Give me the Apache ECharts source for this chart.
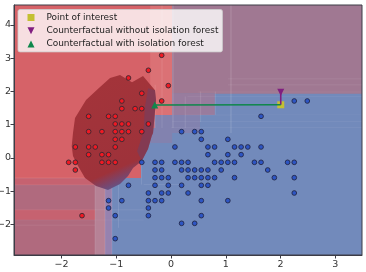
<!DOCTYPE html>
<html><head><meta charset="utf-8">
<style>html,body{margin:0;padding:0;background:#fff}#c{width:366px;height:272px}canvas{filter:blur(.2px)}</style>
<script src="https://cdn.jsdelivr.net/npm/echarts@6/dist/echarts.min.js"></script>
</head><body><div id="c"></div>
<script>
const xTicks = [-2,-1,0,1,2,3];
const yTicks = [-2,-1,0,1,2,3,4];
const xRange = [-2.87,3.49];
const yRange = [-2.917,4.6];

const redPoints = [
[-0.171,3.088],[-0.414,2.637],[-0.778,2.406],[-0.05,2.175],[-0.535,1.945],[-0.899,1.714],[-0.171,1.714],
[-0.899,1.484],[-0.657,1.484],[-0.535,1.484],[-1.506,1.253],[-1.142,1.253],[-1.02,1.253],
[-1.02,1.023],[-0.899,1.023],[-0.778,1.023],[-0.414,1.023],
[-1.506,0.792],[-1.263,0.792],[-1.02,0.792],[-0.899,0.792],[-0.778,0.792],[-0.535,0.792],
[-1.02,0.561],[-0.899,0.561],
[-1.749,0.331],[-1.506,0.331],[-1.385,0.331],[-1.02,0.331],
[-1.506,0.1],[-1.263,0.1],[-1.142,0.1],
[-1.871,-0.13],[-1.749,-0.13],[-1.263,-0.13],[-1.142,-0.13],[-1.02,-0.13],
[-1.749,-0.361],[-1.627,-1.734]
];
const bluePoints = [
[1.645,1.253],[2.252,1.714],[2.49,1.714],
[0.193,0.792],[0.432,0.792],[0.553,0.792],
[0.553,0.561],[1.038,0.561],
[0.071,0.331],[0.674,0.331],[0.796,0.331],[1.16,0.331],[1.281,0.331],[1.403,0.331],[1.645,0.331],
[0.674,0.1],[1.038,0.1],[1.281,0.1],
[-0.535,-0.13],[-0.293,-0.13],[-0.171,-0.13],[0.071,-0.13],[0.193,-0.13],[0.311,-0.13],[0.796,-0.13],[0.917,-0.13],[1.038,-0.13],[1.16,-0.13],[1.524,-0.13],[1.645,-0.13],[2.13,-0.13],[2.252,-0.13],
[-0.293,-0.361],[-0.171,-0.361],[0.193,-0.361],[0.311,-0.361],[0.432,-0.361],[0.553,-0.361],[0.674,-0.361],[0.917,-0.361],[1.767,-0.361],
[-0.293,-0.592],[-0.171,-0.592],[-0.05,-0.592],[0.311,-0.592],[0.432,-0.592],[0.553,-0.592],[0.674,-0.592],[0.796,-0.592],[1.16,-0.592],[1.888,-0.592],[2.252,-0.592],
[-0.778,-0.822],[-0.293,-0.822],[-0.05,-0.822],[0.193,-0.822],[0.553,-0.822],[0.674,-0.822],
[-0.414,-1.053],[-0.171,-1.053],[-0.05,-1.053],[0.311,-1.053],[2.252,-1.053],
[-1.142,-1.283],[-0.899,-1.283],[-0.414,-1.283],[-0.293,-1.283],[-0.171,-1.283],[0.553,-1.283],[1.038,-1.283],
[-1.142,-1.504],[-0.414,-1.504],
[-1.02,-1.734],[-0.414,-1.734],[0.553,-1.734],
[0.193,-1.965],[0.432,-1.965],
[-1.02,-2.426]
];
const pointOfInterest = [2.005,1.6];
const cfWithout = [2.005,1.976];
const cfWith = [-0.298,1.594];

// decision regions: [x0,x1,y0,y1]
const blueRegion = [[-2.87,3.49,-2.917,4.6]];
const redRegion = [[-2.87,0.02,0.9,4.6],[-2.87,-0.55,-0.6,0.9]];
const redLightRegion = [[-0.38,0.02,0.9,4.6]];
const mauveRegion = [[-2.87,-1.39,-2.917,-0.81]];
const mauveRedRegion = [[-2.87,-1.39,-0.81,-0.6],[-2.87,-1.39,-1.86,-1.56]];
const edgeARegion = [[-1.39,-1.207,-2.917,-0.6]];
const edgeBRegion = [[-1.207,-1.079,-2.917,-0.6]];
const purpleRegion = [[0.02,3.49,1.93,4.6]];
const midARegion = [[0.02,0.8,1.29,1.93]];
const midBRegion = [[-0.3,0.53,0.75,1.29],[-0.55,0.02,0.45,0.9]];
const lightStrips = [
[1.08,1.11,0.75,4.6],[0.02,0.05,0.9,4.6],[-0.175,-0.155,0.9,4.6],[-0.3,-0.28,0.9,2.2],
[1.04,3.49,2.37,2.39],[1.04,3.49,2.19,2.21],[0.5,3.49,1.975,1.995],[0.3,3.49,1.83,1.85],
[0.25,1.1,1.285,1.3],[0.0,3.49,0.9,0.92],[0.02,3.49,1.08,1.095],[1.1,3.49,1.29,1.3],
[0.25,0.27,0.9,1.85],[0.53,0.55,1.08,2.0],[0.8,0.82,1.3,2.0],
[-2.87,-1.39,-0.615,-0.59],[-2.87,-1.39,-0.82,-0.8],[-2.87,-1.39,-1.57,-1.55],[-2.87,-1.39,-1.875,-1.855],[-2.87,-1.39,-2.03,-2.01],
[-1.4,-1.38,-2.917,-0.6],[-1.217,-1.197,-2.917,-0.6],[-1.09,-1.07,-2.917,-0.6],
[-1.39,-0.5,-1.875,-1.855],[-1.39,-0.5,-1.57,-1.55],[-0.97,-0.95,-2.1,-0.8],[-0.5,0.2,-0.81,-0.79],[-0.55,-0.53,-0.8,0.4]
];
// dark contour outline [x,y]
const blobOutline = [[-0.932,2.496],[-0.713,2.276],[-0.512,2.466],[-0.293,2.035],[-0.274,1.744],[-0.329,0.752],[-0.353,0.662],[-0.421,0.271],[-0.535,-0.09],[-0.695,-0.301],[-0.786,-0.541],[-0.932,-0.782],[-1.152,-0.962],[-1.371,-0.842],[-1.572,-0.602],[-1.7,-0.241],[-1.792,0.06],[-1.815,0.361],[-1.792,0.752],[-1.755,1.203],[-1.554,1.744],[-1.298,2.135],[-1.115,2.406]];
const blobEdgeOutline = [[-0.42,2.1],[-0.293,2.035],[-0.274,1.744],[-0.329,0.752],[-0.353,0.662],[-0.421,0.271],[-0.535,-0.09],[-0.62,0.2],[-0.5,0.8],[-0.48,1.5]];

const axisColor = '#3c3c46';
function rectSeries(name,data,color,z){
  return {type:'custom',name,data,z,silent:true,clip:true,coordinateSystem:'cartesian2d',
    encode:{x:[0,1],y:[2,3]},
    renderItem(p,api){
      const a=api.coord([api.value(0),api.value(3)]),b=api.coord([api.value(1),api.value(2)]);
      return {type:'rect',shape:{x:a[0],y:a[1],width:b[0]-a[0],height:b[1]-a[1]},style:{fill:color}};
    }};
}
function polySeries(name,pts,fill,z){
  return {type:'custom',name,data:[[pts[0][0],pts[0][1]]],z,silent:true,clip:true,coordinateSystem:'cartesian2d',
    renderItem(p,api){
      return {type:'polygon',shape:{points:pts.map(q=>api.coord(q))},style:{fill}};
    }};
}
const chart = echarts.init(document.getElementById('c'),null,{renderer:'canvas'});
const lab = {fontFamily:'DejaVu Sans',fontSize:9.5,color:'#333',formatter:v=>String(v).replace('-','\u2212')};
chart.setOption({
  animation:false,
  grid:{left:14,right:4,top:5,bottom:17,outerBoundsMode:'none',show:true,borderColor:axisColor,borderWidth:1,backgroundColor:'transparent',z:9},
  xAxis:{type:'value',min:xRange[0],max:xRange[1],splitLine:{show:false},z:9,
    axisLine:{show:true,onZero:false,lineStyle:{color:axisColor}},
    axisTick:{show:true,length:3.5,customValues:xTicks,lineStyle:{color:axisColor}},
    axisLabel:Object.assign({customValues:xTicks,margin:5},lab)},
  yAxis:{type:'value',min:yRange[0],max:yRange[1],splitLine:{show:false},z:9,
    axisLine:{show:true,onZero:false,lineStyle:{color:axisColor}},
    axisTick:{show:true,length:3.5,customValues:yTicks,lineStyle:{color:axisColor}},
    axisLabel:Object.assign({customValues:yTicks,margin:3},lab)},
  legend:{left:18,top:9.5,orient:'vertical',itemWidth:7,itemHeight:7,itemGap:4.2,padding:[3.5,4,3.5,9.5],
    backgroundColor:'rgba(255,255,255,0.8)',borderColor:'rgba(205,205,205,0.8)',borderWidth:1,borderRadius:2,
    textStyle:{fontFamily:'DejaVu Sans',fontSize:8.95,lineHeight:9,color:'#222',padding:[0,0,0,7]},
    selectedMode:false,
    data:[{name:'Point of interest',icon:'rect'},
          {name:'Counterfactual without isolation forest',icon:'path://M0,0L10,0L5,10Z'},
          {name:'Counterfactual with isolation forest',icon:'triangle'}]},
  series:[
    rectSeries('blue',blueRegion,'rgb(114,138,187)',1),
    rectSeries('red',redRegion,'rgb(214,98,104)',1.1),
    rectSeries('redLight',redLightRegion,'rgba(232,150,150,0.3)',1.2),
    rectSeries('mauve',mauveRegion,'rgb(176,106,126)',1.1),
    rectSeries('mauveRed',mauveRedRegion,'rgb(198,98,112)',1.2),
    rectSeries('edgeA',edgeARegion,'rgb(182,130,150)',1.2),
    rectSeries('edgeB',edgeBRegion,'rgb(150,130,175)',1.2),
    rectSeries('purple',purpleRegion,'rgb(160,120,146)',1.2),
    rectSeries('midA',midARegion,'rgb(152,124,158)',1.3),
    rectSeries('midB',midBRegion,'rgb(130,130,175)',1.2),
    rectSeries('strips',lightStrips,'rgba(255,255,255,0.1)',1.4),
    polySeries('contour',blobOutline,new echarts.graphic.LinearGradient(0.1,0,0.7,1,[
      {offset:0,color:'rgb(164,52,58)'},{offset:0.8,color:'rgb(158,50,58)'},
      {offset:0.89,color:'rgb(120,70,110)'},{offset:0.97,color:'rgb(82,94,155)'},{offset:1,color:'rgb(78,100,165)'}]),1.6),
    polySeries('contourEdge',blobEdgeOutline,'rgba(90,70,120,0.4)',1.7),
    {type:'scatter',name:'red class',data:redPoints,symbol:'circle',symbolSize:4.7,z:3,silent:true,
      itemStyle:{color:'rgb(240,25,35)',borderColor:'rgb(55,40,50)',borderWidth:0.9,opacity:1}},
    {type:'scatter',name:'blue class',data:bluePoints,symbol:'circle',symbolSize:4.7,z:3,silent:true,
      itemStyle:{color:'rgb(45,85,195)',borderColor:'rgb(35,40,75)',borderWidth:0.9,opacity:1}},
    {type:'scatter',name:'Point of interest',data:[pointOfInterest],symbol:'rect',symbolSize:7,z:4,silent:true,itemStyle:{color:'rgb(196,192,50)',opacity:1}},
    {type:'line',name:'withoutPath',data:[pointOfInterest,cfWithout],symbol:'none',z:5,silent:true,lineStyle:{color:'rgb(128,30,128)',width:1.6}},
    {type:'line',name:'withPath',data:[pointOfInterest,cfWith],symbol:'none',z:5,silent:true,lineStyle:{color:'rgb(15,135,75)',width:1.6}},
    {type:'scatter',name:'Counterfactual without isolation forest',data:[cfWithout],symbol:'path://M0,0L10,0L5,10Z',symbolSize:7,z:6,silent:true,itemStyle:{color:'rgb(128,30,128)',opacity:1}},
    {type:'scatter',name:'Counterfactual with isolation forest',data:[cfWith],symbol:'triangle',symbolSize:7,z:6,silent:true,itemStyle:{color:'rgb(15,135,75)',opacity:1}}
  ]
});
</script></body></html>
